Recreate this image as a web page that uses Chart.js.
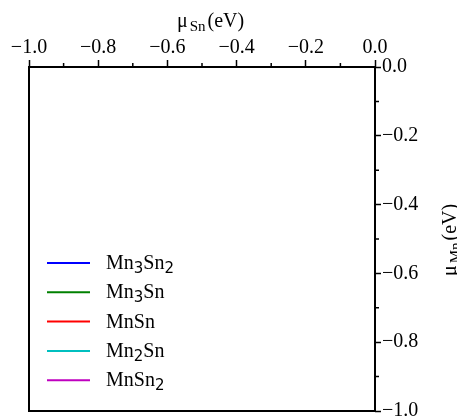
<!DOCTYPE html>
<html>
<head>
<meta charset="utf-8">
<script src="https://cdn.jsdelivr.net/npm/chart.js@4.4.0/dist/chart.umd.min.js"></script>
<style>
  html, body { margin: 0; padding: 0; background: #fff; }
  #wrap { width: 457px; height: 419px; }
</style>
</head>
<body>
<div id="wrap"><canvas id="chart" width="457" height="419"></canvas></div>
<script>
// phase names and line colours (no visible segments inside the window)
const seriesNames = ['Mn3Sn2', 'Mn3Sn', 'MnSn', 'Mn2Sn', 'MnSn2'];
const seriesColors = ['#0000ff', '#008000', '#ff0000', '#00bfbf', '#bf00bf'];
const seriesValues = [[], [], [], [], []];

// axis ranges and ticks
const xRange = [-1.0, 0.0];
const yRange = [-1.0, 0.0];
const majorStep = 0.2;
const minorTicks = [-0.9, -0.7, -0.5, -0.3, -0.1];

const serif = '"Liberation Serif", "Times New Roman", serif';
const sans = '"DejaVu Sans", sans-serif';

const fmt = v => {
  const s = Math.abs(v).toFixed(1);
  return (v < -1e-9 ? '\u2212' : '') + s;
};

// draws text where digits become subscripts
function drawChem(ctx, text, x, y) {
  let cx = x;
  for (const ch of text) {
    if (/[0-9]/.test(ch)) {
      ctx.font = '15px ' + sans;
      ctx.fillText(ch, cx, y + 4);
    } else {
      ctx.font = '20px ' + serif;
      ctx.fillText(ch, cx, y);
    }
    cx += ctx.measureText(ch).width;
  }
}

function drawLabel(ctx, sub, x, y) {
  // "μ" + subscript + "(eV)"
  let cx = x;
  ctx.font = '20px ' + serif;
  ctx.fillText('\u03bc', cx, y);
  cx += ctx.measureText('\u03bc').width + 2;
  ctx.font = '15px ' + serif;
  ctx.fillText(sub, cx, y + 4);
  cx += ctx.measureText(sub).width + 2;
  ctx.font = '20px ' + serif;
  ctx.fillText('(eV)', cx, y);
}

const decorations = {
  id: 'decorations',
  afterDraw(chart) {
    const ctx = chart.ctx;
    const { left, right, top, bottom } = chart.chartArea;
    const xs = chart.scales.x, ys = chart.scales.y;
    ctx.save();
    ctx.strokeStyle = '#000';
    ctx.lineWidth = 2;
    ctx.strokeRect(left, top, right - left, bottom - top);

    // minor ticks, outward
    ctx.lineWidth = 1.5;
    ctx.beginPath();
    minorTicks.forEach(v => {
      const px = xs.getPixelForValue(v);
      ctx.moveTo(px, top);
      ctx.lineTo(px, top - 4);
      const py = ys.getPixelForValue(v);
      ctx.moveTo(right, py);
      ctx.lineTo(right + 4, py);
    });
    ctx.stroke();

    // axis titles
    ctx.fillStyle = '#000';
    ctx.textBaseline = 'alphabetic';
    ctx.textAlign = 'left';
    drawLabel(ctx, 'Sn', 177, 27);
    ctx.save();
    ctx.translate(456, 276);
    ctx.rotate(-Math.PI / 2);
    drawLabel(ctx, 'Mn', 0, 0);
    ctx.restore();

    // legend inside the plot
    const lx = 47, ly = 263, gap = 29.3;
    chart.data.datasets.forEach((ds, i) => {
      const y = ly + i * gap;
      ctx.strokeStyle = ds.borderColor;
      ctx.lineWidth = 2;
      ctx.beginPath();
      ctx.moveTo(lx, y);
      ctx.lineTo(lx + 43, y);
      ctx.stroke();
      ctx.fillStyle = '#000';
      drawChem(ctx, ds.label, 106, y + 6);
    });
    ctx.restore();
  }
};

const datasets = seriesNames.map((name, i) => ({
  label: name,
  data: seriesValues[i],
  borderColor: seriesColors[i],
  backgroundColor: seriesColors[i],
  borderWidth: 2,
  pointRadius: 0,
  showLine: true
}));

new Chart(document.getElementById('chart').getContext('2d'), {
  type: 'scatter',
  data: { datasets },
  options: {
    responsive: false,
    animation: false,
    layout: { padding: { left: 29, right: 0, top: 0, bottom: 8 } },
    plugins: { legend: { display: false }, tooltip: { enabled: false } },
    scales: {
      x: {
        type: 'linear',
        position: 'top',
        min: xRange[0],
        max: xRange[1],
        afterFit: s => { s.height = 67; s.paddingLeft = 0; s.paddingRight = 0; },
        border: { display: false },
        grid: { drawOnChartArea: false, drawTicks: true, tickLength: 7, tickWidth: 1.5, tickColor: '#000' },
        ticks: { stepSize: majorStep, padding: 0, color: '#000', font: { family: serif, size: 20 }, callback: v => fmt(v), maxRotation: 0 }
      },
      y: {
        type: 'linear',
        position: 'right',
        min: yRange[0],
        max: yRange[1],
        afterFit: s => { s.width = 82; s.paddingTop = 0; s.paddingBottom = 0; },
        border: { display: false },
        grid: { drawOnChartArea: false, drawTicks: true, tickLength: 6, tickWidth: 1.5, tickColor: '#000' },
        ticks: { stepSize: majorStep, padding: 1, color: '#000', font: { family: serif, size: 20 }, callback: v => fmt(v) }
      }
    }
  },
  plugins: [decorations]
});
</script>
</body>
</html>
